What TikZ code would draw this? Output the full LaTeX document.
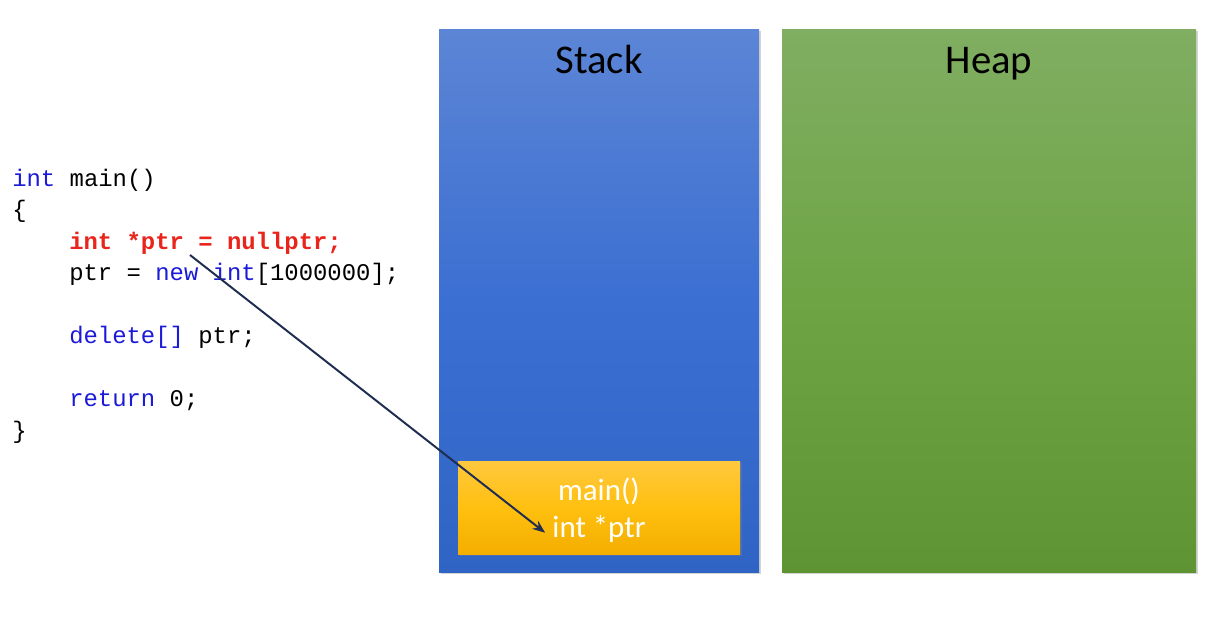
\documentclass[tikz,border=0pt]{standalone}
\usepackage{fontspec}
\setmainfont{Carlito}
\newfontfamily\codefont{Liberation Mono}
\usetikzlibrary{shadows,arrows.meta}
\definecolor{kwblue}{HTML}{1A1AD8}
\definecolor{kwred}{HTML}{E8241C}
\definecolor{arrowc}{HTML}{1F2D50}
\tikzset{
  region/.style={draw=none, shade, shading angle=0, drop shadow={opacity=0.35, shadow xshift=1.5pt, shadow yshift=-1.5pt}},
  codeline/.style={anchor=base west, inner sep=0pt, font=\codefont\fontsize{17}{20}\selectfont},
  title/.style={anchor=base, inner sep=0pt, font=\fontsize{29}{34}\selectfont, text=black},
  frametext/.style={anchor=base, font=\fontsize{22}{26}\selectfont, text=white, inner sep=0pt},
}
\begin{document}
\begin{tikzpicture}[x=0.025cm, y=-0.025cm]
\useasboundingbox (0,0) rectangle (1222,634);
% stack and heap regions
\path[region, top color={rgb,255:red,92;green,133;blue,213}, bottom color={rgb,255:red,48;green,100;blue,196}, middle color={rgb,255:red,59;green,111;blue,210}]
  (439,29) rectangle (759,572);
\path[region, top color={rgb,255:red,128;green,174;blue,98}, bottom color={rgb,255:red,95;green,148;blue,53}, middle color={rgb,255:red,110;green,164;blue,68}]
  (782,29) rectangle (1196,572);
\node[title] (stack) at (599,73) {Stack};
\node[title] (heap) at (989,73) {Heap};
% frame
\path[region, top color={rgb,255:red,255;green,200;blue,62}, bottom color={rgb,255:red,244;green,174;blue,0}, middle color={rgb,255:red,255;green,192;blue,16}]
  (458,461) rectangle (740,554);
\node[frametext] (framemain) at (599,500) {main()};
\node[frametext] (frameptr) at (599,537) {int *ptr};
% code
\node[codeline] (l1) at (12,186) {\textcolor{kwblue}{int} main()};
\node[codeline] (l2) at (12,217.5) {\{};
\node[codeline, text=kwred] (l3) at (69,249) {\bfseries int *ptr = nullptr;};
\node[codeline] (l4) at (69,280.5) {ptr = \textcolor{kwblue}{new} \textcolor{kwblue}{int}[1000000];};
\node[codeline] (l5) at (69,343.5) {\textcolor{kwblue}{delete[]} ptr;};
\node[codeline] (l6) at (69,406.5) {\textcolor{kwblue}{return} 0;};
\node[codeline] (l7) at (12,438) {\}};
% arrow
\coordinate (src) at (190,255);
\draw[arrowc, line width=1.4pt, -{Stealth[length=9pt,width=7pt]}] (src) -- ([xshift=-5pt,yshift=-3pt]frameptr.west);
\end{tikzpicture}
\end{document}
